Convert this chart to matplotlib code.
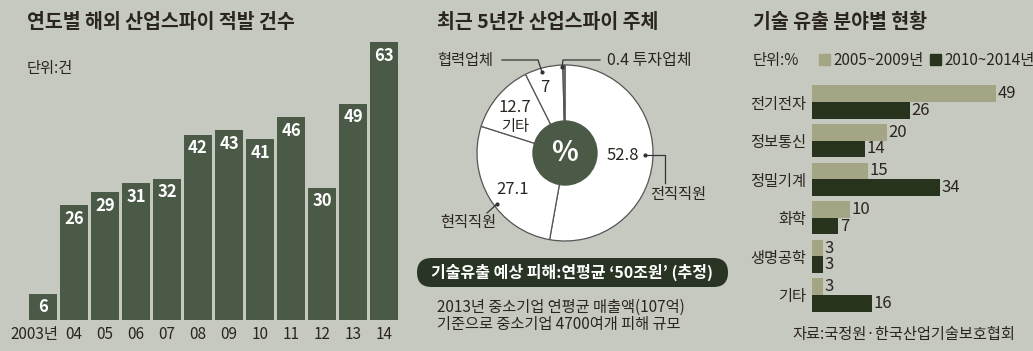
import matplotlib
matplotlib.use("Agg")
import matplotlib.pyplot as plt
from matplotlib.patches import FancyBboxPatch, Circle, Patch
from matplotlib.transforms import IdentityTransform, ScaledTranslation

plt.rcParams['font.family'] = ['Noto Sans CJK KR', 'DejaVu Sans']

# --- data ---
years = ["2003년", "04", "05", "06", "07", "08", "09", "10", "11", "12", "13", "14"]
cases = [6, 26, 29, 31, 32, 42, 43, 41, 46, 30, 49, 63]

subj_labels = ["전직직원", "현직직원", "기타", "협력업체", "투자업체"]
subj_values = [52.8, 27.1, 12.7, 7, 0.4]

fields = ["전기전자", "정보통신", "정밀기계", "화학", "생명공학", "기타"]
early = [49, 20, 15, 10, 3, 3]
late = [26, 14, 34, 7, 3, 16]
series_names = ["2005~2009년", "2010~2014년"]

W, H = 1033, 351
bg = "#c5c9c0"
txt = "#2b2520"
green = "#4a5a47"
light = "#a4a584"
dark = "#27331c"

fig = plt.figure(figsize=(W / 100, H / 100), dpi=100, facecolor=bg)


def ftext(x, y, s, **kw):
    fig.text(x / W, 1 - y / H, s, color=kw.pop("color", txt), **kw)


def axes_px(x0, y0, x1, y1):
    return fig.add_axes([x0 / W, 1 - y1 / H, (x1 - x0) / W, (y1 - y0) / H])


# --- left: yearly bar chart ---
ax1 = axes_px(27.5, 11.3, 399.5, 320)
ax1.set_facecolor("none")
xs = range(len(years))
ax1.bar(xs, cases, width=0.9, color=green)
for i, v in zip(xs, cases):
    ax1.text(i, v - 1.0, str(v), ha="center", va="top", color="white",
             fontsize=12, fontweight="bold")
ax1.set_xlim(-0.5, len(years) - 0.5)
ax1.set_ylim(0, 70)
ax1.set_xticks(list(xs))
ax1.set_xticklabels(years, fontsize=11, color=txt)
ax1.tick_params(axis="x", length=0, pad=4)
first = ax1.get_xticklabels()[0]
first.set_ha("right")
first.set_transform(first.get_transform() +
                    ScaledTranslation(0.155, 0, fig.dpi_scale_trans))
ax1.set_yticks([])
for s in ax1.spines.values():
    s.set_visible(False)

ftext(27, 22, "연도별 해외 산업스파이 적발 건수", fontsize=14, fontweight="bold",
      va="center")
ftext(27, 68, "단위:건", fontsize=11, va="center")

# --- middle: donut ---
cx, cy, R = 565, 153, 88
S = 300
ax2 = axes_px(cx - S / 2, cy - S / 2, cx + S / 2, cy + S / 2)
ax2.pie(subj_values, startangle=90, counterclock=False,
        colors=["white", "white", "white", "white", "#8a8f86"],
        wedgeprops=dict(edgecolor="#555555", linewidth=0.9))
L = S / (2 * R)
ax2.set_xlim(-L, L)
ax2.set_ylim(-L, L)
ax2.add_patch(Circle((0, 0), 32 / R, color=green, zorder=5))
ax2.text(0, 0, "%", color="white", fontsize=20, fontweight="bold",
         ha="center", va="center", zorder=6)


def d(px, py):
    return ((px - cx) / R, (cy - py) / R)


def dline(pts):
    xy = [d(*p) for p in pts]
    ax2.plot([p[0] for p in xy], [p[1] for p in xy], color="#333333",
             lw=0.9, zorder=7, clip_on=False)
    ax2.plot(*xy[-1], "o", ms=2, color="#333333", zorder=7, clip_on=False)


def dtext(px, py, s, **kw):
    ax2.text(*d(px, py), s, ha=kw.pop("ha", "center"), va="center",
             color=txt, zorder=8, **kw)


dtext(623, 156, f"{subj_values[0]}", fontsize=12)
dline([(665, 183), (665, 155), (645, 155)])
dtext(678, 194, subj_labels[0], fontsize=11)
dtext(513, 189, f"{subj_values[1]}", fontsize=12)
dline([(487, 213), (497, 204)])
dtext(468, 223, subj_labels[1], fontsize=11)
dtext(515, 107, f"{subj_values[2]}", fontsize=12)
dtext(515, 127, subj_labels[2], fontsize=11)
dtext(545, 87, f"{subj_values[3]:g}", fontsize=12)
dline([(502, 60), (538, 60), (542, 72)])
dtext(465, 60, subj_labels[3], fontsize=11)
dline([(600, 60), (563, 60), (562, 67)])
dtext(607, 60, f"{subj_values[4]} {subj_labels[4]}", fontsize=11.5, ha="left")

ftext(437, 22, "최근 5년간 산업스파이 주체", fontsize=14, fontweight="bold",
      va="center")

banner = FancyBboxPatch((417, H - 287), 311, 29,
                        boxstyle="round,pad=0,rounding_size=14.5",
                        transform=IdentityTransform(), facecolor="#2a3424",
                        edgecolor="none")
fig.patches.append(banner)
ftext(572, 272.5, "기술유출 예상 피해:연평균 ‘50조원’ (추정)", fontsize=11.5,
      fontweight="bold", color="white", ha="center", va="center")
ftext(437, 307, "2013년 중소기업 연평균 매출액(107억)", fontsize=11, va="center")
ftext(437, 325, "기준으로 중소기업 4700여개 피해 규모", fontsize=11, va="center")

# --- right: horizontal grouped bars ---
pitch = 38.6
ax3 = axes_px(812, 102 - 0.5 * pitch, 812 + 55 * 3.76, 102 + 5.5 * pitch)
ax3.set_facecolor("none")
ys = list(range(len(fields)))
h = 0.43
ax3.barh([y - h / 2 for y in ys], early, height=h, color=light,
         label=series_names[0])
ax3.barh([y + h / 2 for y in ys], late, height=h, color=dark,
         label=series_names[1])
for y, a, b in zip(ys, early, late):
    ax3.text(a + 0.4, y - h / 2, str(a), va="center", fontsize=12, color=txt)
    ax3.text(b + 0.4, y + h / 2, str(b), va="center", fontsize=12, color=txt)
ax3.set_xlim(0, 55)
ax3.set_ylim(len(fields) - 0.5, -0.5)
ax3.set_yticks(ys)
ax3.set_yticklabels(fields, fontsize=11, color=txt)
ax3.tick_params(axis="y", length=0, pad=4)
ax3.set_xticks([])
for s in ax3.spines.values():
    s.set_visible(False)

handles = [Patch(color=light), Patch(color=dark)]
fig.legend(handles, series_names, loc="center left",
           bbox_to_anchor=(819 / W, 1 - 60 / H), ncol=2, frameon=False,
           fontsize=11, handlelength=0.75, handleheight=0.75,
           handletextpad=0.2, columnspacing=0.4, borderaxespad=0,
           borderpad=0, labelcolor=txt)

ftext(753, 22, "기술 유출 분야별 현황", fontsize=14, fontweight="bold", va="center")
ftext(753, 60, "단위:%", fontsize=11, va="center")
ftext(1015, 335, "자료:국정원·한국산업기술보호협회", fontsize=11, ha="right",
      va="center")

fig.savefig("out.png", dpi=100, facecolor=bg)
